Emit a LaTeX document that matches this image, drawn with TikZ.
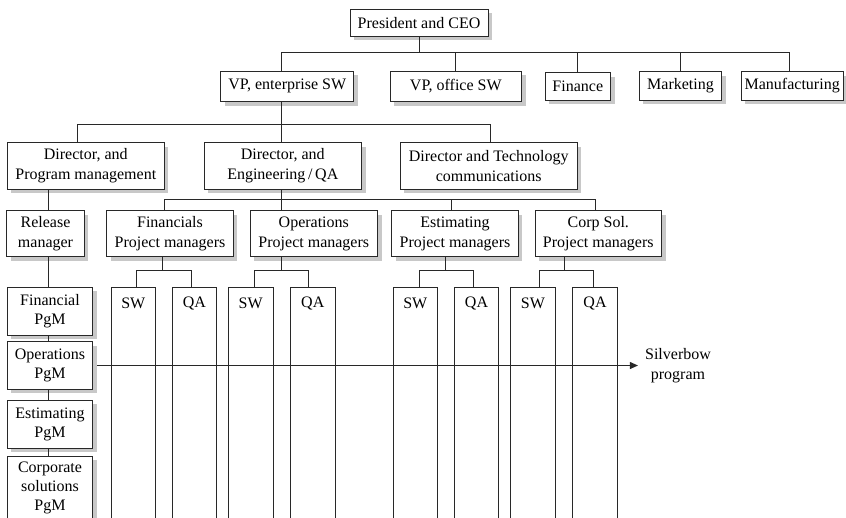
\documentclass[tikz,border=0pt]{standalone}
\usepackage{fontspec}
\setmainfont{Liberation Serif}
\usetikzlibrary{arrows.meta}
\definecolor{ln}{RGB}{40,40,40}
\definecolor{shd}{RGB}{200,200,200}
\newcommand\boxfont{\fontsize{16}{20}\selectfont}
\newcommand\pgmfont{\fontsize{16}{18.6}\selectfont}
% #1 style, #2 name, #3 centre, #4 width, #5 height, #6 text
\newcommand\orgbox[6][box]{%
  \node[shadowbox, minimum width=#4, minimum height=#5] (#2s) at ([xshift=4pt,yshift=-4pt]#3) {};
  \node[#1, minimum width=#4, minimum height=#5] (#2) at (#3) {#6};}
\begin{document}
\begin{tikzpicture}[x=1pt,y=-1pt,
  box/.style={draw=ln, line width=0.9pt, fill=white, inner sep=0pt, align=center, font=\boxfont},
  pgm/.style={box, font=\pgmfont},
  shadowbox/.style={fill=shd, draw=none, inner sep=0pt, outer sep=0pt},
  col/.style={draw=ln, line width=0.9pt, anchor=north, inner sep=0pt, minimum height=240pt},
  txt/.style={inner sep=0pt, font=\boxfont, align=center},
  conn/.style={draw=ln, line width=0.9pt}]
\useasboundingbox (0,0) rectangle (846,517);

% level 1 and 2
\orgbox{ceo}{419,22.7}{138pt}{27pt}{President and CEO}
\orgbox{vpe}{287.3,86.3}{133pt}{30.7pt}{VP, enterprise SW}
\orgbox{vpo}{455.8,86.3}{131.7pt}{30.7pt}{VP, office SW}
\orgbox{fin}{577.8,86.3}{65.7pt}{27.3pt}{Finance}
\orgbox{mkt}{680.5,85.9}{82.4pt}{28.3pt}{Marketing}
\orgbox{mfg}{792.2,85.9}{102.3pt}{28.3pt}{Manufacturing}

% directors
\orgbox{dpm}{85.8,166}{157pt}{46.6pt}{Director, and\\Program management}
\orgbox{deq}{282.8,166}{157.7pt}{46.6pt}{Director, and\\Engineering\,/\,QA}
\orgbox{dtc}{488.7,166}{177.3pt}{46.6pt}{Director and Technology\\communications}

% third row
\orgbox{rel}{45.5,233.7}{77.6pt}{46pt}{Release\\manager}
\orgbox{fpm}{170,233.7}{126.6pt}{46pt}{Financials\\Project managers}
\orgbox{opm}{313.8,233.7}{127.7pt}{46pt}{Operations\\Project managers}
\orgbox{epm}{455,233.7}{126.6pt}{46pt}{Estimating\\Project managers}
\orgbox{cpm}{598.3,233.7}{126.7pt}{46pt}{Corp Sol.\\Project managers}

% left column
\orgbox[pgm]{fpg}{50,311.2}{85.4pt}{47.7pt}{Financial\\PgM}
\orgbox[pgm]{opg}{50,365.5}{85.4pt}{47.6pt}{Operations\\PgM}
\orgbox[pgm]{epg}{50,424.2}{85.4pt}{48.3pt}{Estimating\\PgM}
\orgbox[pgm]{cpg}{50,488}{85.4pt}{64pt}{Corporate\\solutions\\PgM}

% SW / QA columns
\node[col, minimum width=44.7pt] (sw1) at (133.3,287.3) {};
\node[col, minimum width=44.4pt] (qa1) at (194.5,287.3) {};
\node[col, minimum width=44.7pt] (sw2) at (250.7,287.3) {};
\node[col, minimum width=44.3pt] (qa2) at (312.8,287.3) {};
\node[col, minimum width=44pt] (sw3) at (415.3,287.3) {};
\node[col, minimum width=44.4pt] (qa3) at (476.5,287.3) {};
\node[col, minimum width=44.3pt] (sw4) at (532.9,287.3) {};
\node[col, minimum width=44.6pt] (qa4) at (595,287.3) {};
\foreach \c/\t in {sw1/SW,qa1/QA,sw2/SW,qa2/QA,sw3/SW,qa3/QA,sw4/SW,qa4/QA}
  \node[txt] (\c t) at ([yshift=-16pt]\c.north) {\t};

\node[txt] (sb) at (678,365.5) {Silverbow\\program};

% coordinates of trunk lines
\coordinate (b1) at (0,52.7);
\coordinate (b2) at (0,124);
\coordinate (b3) at (0,199.3);
\coordinate (b4) at (0,270.7);
\coordinate (xA) at (281.7,0);
\coordinate (xM) at (789.3,0);
\coordinate (xB) at (77.7,0);
\coordinate (xC) at (490.7,0);
\coordinate (xD) at (164.3,0);
\coordinate (xE) at (595,0);
\coordinate (xF) at (451.7,0);
\coordinate (xL) at (48.3,0);
\coordinate (fd) at (162.3,0);
\coordinate (f1) at (136,0);
\coordinate (f2) at (191,0);
\coordinate (o1) at (254,0);
\coordinate (o2) at (308.3,0);
\coordinate (ed) at (445,0);
\coordinate (e1) at (419.3,0);
\coordinate (e2) at (473.3,0);
\coordinate (cd) at (564,0);
\coordinate (c1) at (539.3,0);
\coordinate (c2) at (593.3,0);

% level 1 bus
\draw[conn] (ceo.south) -- (ceo.south |- b1);
\draw[conn] (vpe.north -| xA) -- (xA |- b1) -- (xM |- b1) -- (mfg.north -| xM);
\draw[conn] (vpo.north) -- (vpo.north |- b1);
\draw[conn] (fin.north) -- (fin.north |- b1);
\draw[conn] (mkt.north) -- (mkt.north |- b1);

% level 2 bus
\draw[conn] (vpe.south -| xA) -- (deq.north -| xA);
\draw[conn] (dpm.north -| xB) -- (xB |- b2) -- (xC |- b2) -- (dtc.north -| xC);

% level 3 bus
\draw[conn] (deq.south -| xA) -- (opm.north -| xA);
\draw[conn] (fpm.north -| xD) -- (xD |- b3) -- (xE |- b3) -- (cpm.north -| xE);
\draw[conn] (epm.north -| xF) -- (xF |- b3);

% left column chain
\draw[conn] (dpm.south -| xL) -- (rel.north -| xL);
\draw[conn] (rel.south -| xL) -- (fpg.north -| xL);
\draw[conn] (fpg.south -| xL) -- (opg.north -| xL);
\draw[conn] (opg.south -| xL) -- (epg.north -| xL);
\draw[conn] (epg.south -| xL) -- (cpg.north -| xL);

% sub-buses to SW/QA
\draw[conn] (fpm.south -| fd) -- (fd |- b4);
\draw[conn] (sw1.north -| f1) -- (f1 |- b4) -- (f2 |- b4) -- (qa1.north -| f2);
\draw[conn] (opm.south -| xA) -- (xA |- b4);
\draw[conn] (sw2.north -| o1) -- (o1 |- b4) -- (o2 |- b4) -- (qa2.north -| o2);
\draw[conn] (epm.south -| ed) -- (ed |- b4);
\draw[conn] (sw3.north -| e1) -- (e1 |- b4) -- (e2 |- b4) -- (qa3.north -| e2);
\draw[conn] (cpm.south -| cd) -- (cd |- b4);
\draw[conn] (sw4.north -| c1) -- (c1 |- b4) -- (c2 |- b4) -- (qa4.north -| c2);

% program arrow
\draw[conn, -{Triangle[length=8pt,width=7pt]}] ([xshift=4pt]opg.east) -- ([xshift=-7pt]sb.west |- opg.east);
\end{tikzpicture}
\end{document}
